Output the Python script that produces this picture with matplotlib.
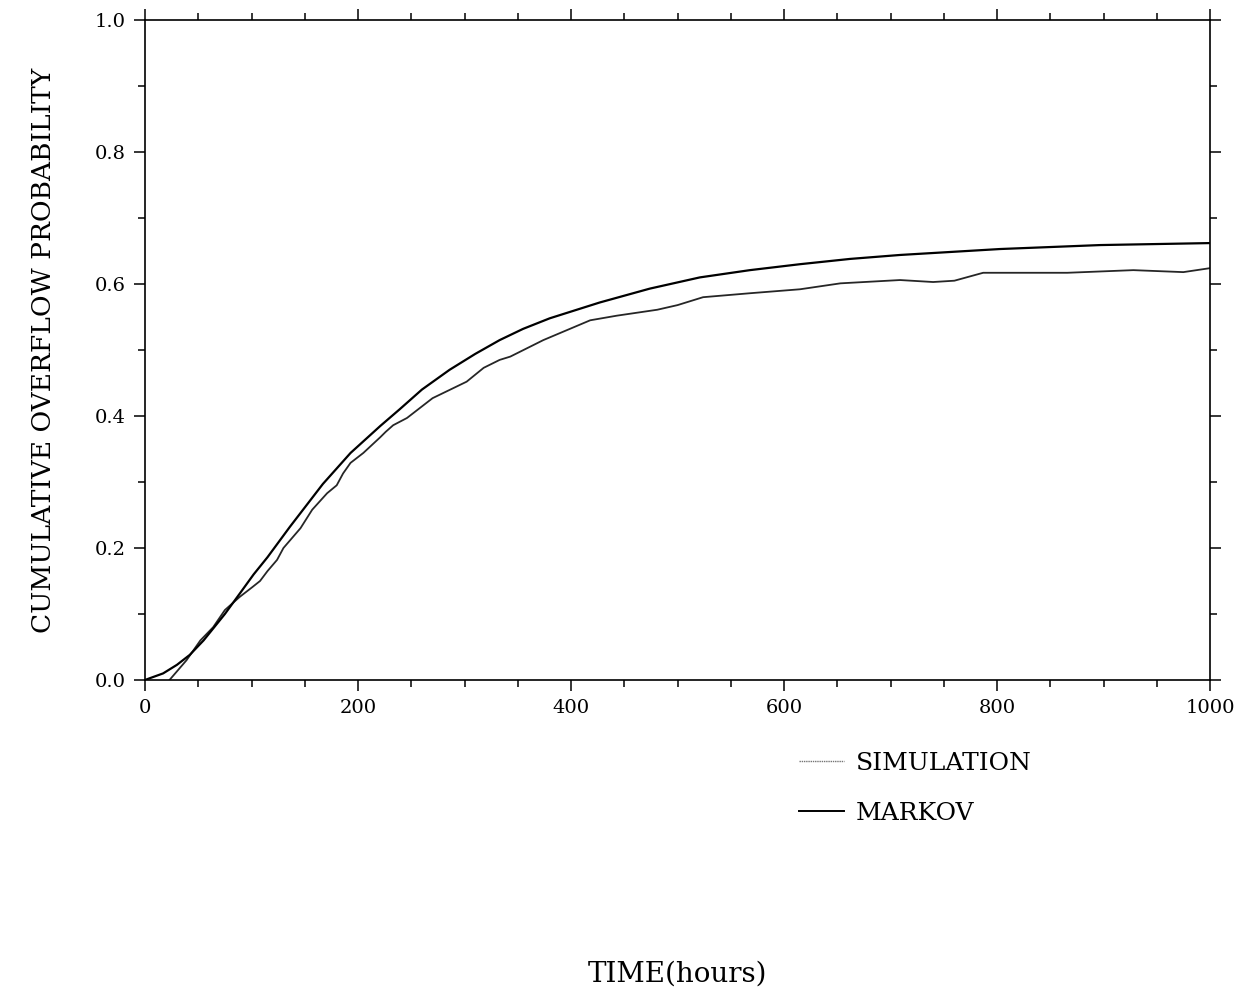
import matplotlib
matplotlib.use("Agg")
import matplotlib.pyplot as plt
from matplotlib.lines import Line2D
from matplotlib.ticker import MultipleLocator

plt.rcParams["font.family"] = ["DejaVu Serif"]

# Markov model: cumulative overflow probability vs time (hours)
markov_t = [0, 5, 17, 30, 42, 55, 68, 75, 89, 102, 115, 136, 167, 193, 221, 239,
            260, 286, 310, 333, 355, 380, 427, 474, 521, 568, 615, 662, 709,
            803, 897, 1000]
markov_p = [0, 0.003, 0.010, 0.023, 0.038, 0.060, 0.086, 0.100, 0.131, 0.160, 0.186,
            0.232, 0.297, 0.344, 0.385, 0.410, 0.440, 0.470, 0.494, 0.515, 0.532,
            0.548, 0.572, 0.593, 0.610, 0.621, 0.630, 0.638, 0.644, 0.653, 0.659,
            0.662]

# simulation run
sim_t = [23, 39, 52, 64, 75, 89, 101, 108, 115, 124, 130, 146, 157, 171, 180, 186,
         193, 205, 221, 226, 233, 246, 270, 302, 318, 333, 343, 374, 418, 443, 481,
         500, 524, 568, 615, 653, 709, 740, 760, 787, 866, 928, 975, 1000]
sim_p = [0.0, 0.030, 0.060, 0.080, 0.106, 0.126, 0.141, 0.150, 0.165, 0.182, 0.200,
         0.230, 0.258, 0.283, 0.295, 0.313, 0.329, 0.344, 0.368, 0.376, 0.386, 0.397,
         0.427, 0.452, 0.473, 0.485, 0.490, 0.515, 0.545, 0.552, 0.561, 0.568, 0.580,
         0.586, 0.592, 0.601, 0.606, 0.603, 0.605, 0.617, 0.617, 0.621, 0.618, 0.624]

xticks = [0, 200, 400, 600, 800, 1000]
yticks = [0.0, 0.2, 0.4, 0.6, 0.8, 1.0]

fig = plt.figure(figsize=(12.46, 9.96), dpi=100)
ax = fig.add_axes([145 / 1246, 1 - 680 / 996, 1065 / 1246, 660 / 996])

ax.plot(sim_t, sim_p, color="0.15", lw=1.3)
ax.plot(markov_t, markov_p, color="black", lw=1.6)

ax.set_xlim(0, 1000)
ax.set_ylim(0, 1.0)
ax.set_xticks(xticks)
ax.set_xticklabels([str(v) for v in xticks])
ax.set_yticks(yticks)
ax.set_yticklabels(["%.1f" % v for v in yticks])
ax.xaxis.set_minor_locator(MultipleLocator(50))
ax.yaxis.set_minor_locator(MultipleLocator(0.1))
ax.tick_params(which="both", direction="out", top=True, right=True,
               width=1.1, labelsize=14, colors="black")
ax.tick_params(which="major", length=8, pad=6)
ax.tick_params(which="minor", length=5)
for s in ax.spines.values():
    s.set_linewidth(1.2)

ax.set_ylabel("CUMULATIVE OVERFLOW PROBABILITY", fontsize=19)
ax.yaxis.set_label_coords(-0.084, 0.5)
ax.set_xlabel("TIME(hours)", fontsize=20)
ax.xaxis.set_label_coords(0.5, -0.425)

handles = [Line2D([], [], color="0.45", lw=1.0, ls=(0, (1, 0.6))),
           Line2D([], [], color="black", lw=1.4)]
fig.legend(handles, ["SIMULATION", "MARKOV"], loc="upper left",
           bbox_to_anchor=(776 / 1246, 1 - 729 / 996), frameon=False,
           fontsize=18, handlelength=1.8, handletextpad=0.5, labelspacing=1.1)

fig.savefig("out.png", dpi=100)
